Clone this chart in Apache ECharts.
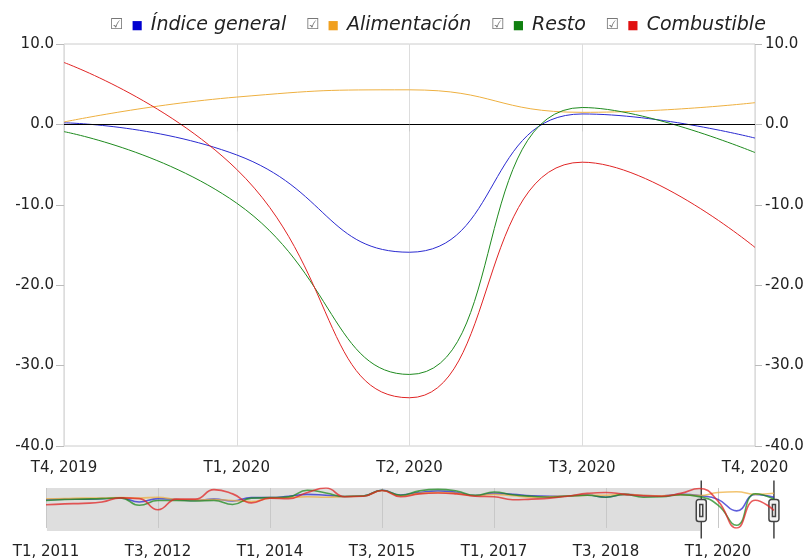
<!DOCTYPE html>
<html>
<head>
<meta charset="utf-8">
<script src="https://cdn.jsdelivr.net/npm/echarts@6/dist/echarts.min.js"></script>
<style>
  html, body { margin: 0; padding: 0; background: #fff; }
  #chart { width: 808px; height: 560px; }
</style>
</head>
<body>
<div id="chart"></div>
<script>
// trimestres T1 2011 .. T4 2020
var quarters = [];
for (var y = 2011; y <= 2020; y++) {
  for (var q = 1; q <= 4; q++) quarters.push('T' + q + ', ' + y);
}

var names = ['Índice general', 'Alimentación', 'Resto', 'Combustible'];
var colors = ['#2a2ad0', '#eeb040', '#1e8a1e', '#e02424'];
var legendColors = ['#0000d0', '#f0a020', '#108010', '#e01010'];

var general = [-4.2, -3.5, -3.5, -3.0, -2.2, -6.5, -3.0, -4.0, -5.0, -3.5,
  -5.5, -2.0, -2.0, -0.5, 1.5, 0.5, -0.8, -0.3, 5.8, 0.8,
  3.5, 5.0, 3.5, 0.2, 2.5, 1.5, 0.0, -0.5, -0.2, 0.8,
  -1.5, 1.5, 0.2, -0.2, 1.5, 0.2, -3.8, -15.9, 1.3, -1.7];
var alimentacion = [-3.2, -3.0, -2.5, -2.5, -2.0, -2.5, -1.5, -4.0, -4.5, -4.0,
  -5.0, -6.0, -2.5, -2.0, -1.0, -1.5, -0.8, -0.3, 5.5, 0.0,
  2.5, 3.5, 2.5, 0.0, 1.5, 0.0, -1.5, -1.0, -0.3, 0.5,
  0.5, 1.5, 0.5, 0.0, 1.0, 0.3, 3.4, 4.3, 1.5, 2.7];
var resto = [-5.0, -4.0, -3.5, -3.0, -2.2, -10.0, -5.0, -5.0, -5.5, -5.0,
  -9.2, -2.5, -2.0, -1.2, 5.8, 3.0, -0.8, -0.3, 5.8, 0.5,
  5.2, 6.8, 5.0, 0.5, 4.0, 1.0, -0.5, -1.5, -0.2, 0.5,
  -1.5, 1.5, -1.5, -1.0, 1.0, -0.9, -9.8, -31.1, 2.1, -3.5];
var combustible = [-9.5, -8.5, -8.0, -6.5, -2.2, -3.0, -14.8, -3.5, -3.5, 6.5,
  2.0, -7.5, -2.5, -3.0, 3.5, 8.2, -1.0, -0.5, 5.5, -1.0,
  2.0, 3.0, 2.0, -0.5, -1.0, -4.2, -3.5, -2.5, -0.2, 2.5,
  3.5, 1.5, 0.0, -0.5, 2.5, 7.7, -5.6, -34.0, -4.7, -15.3];
var allData = [general, alimentacion, resto, combustible];

var chart = echarts.init(document.getElementById('chart'));
var font = 'DejaVu Sans';

var rich = {
  cb: { fontSize: 15, color: '#777', fontStyle: 'normal', fontFamily: font, padding: [0, 8, 0, 0] },
  t: { fontSize: 19, fontStyle: 'italic', color: '#222', fontFamily: font, padding: [0, 0, 0, 8] }
};
legendColors.forEach(function (c, i) {
  rich['c' + i] = { fontSize: 12, color: c, fontFamily: font };
});

var series = [];
allData.forEach(function (d, i) {
  var s = {
    name: names[i], type: 'line', xAxisIndex: 0, yAxisIndex: 0,
    data: d, smooth: true, symbol: 'none',
    lineStyle: { color: colors[i], width: 1 }, itemStyle: { color: colors[i] }
  };
  if (i === 0) {
    s.markLine = {
      silent: true, symbol: ['none', 'none'], label: { show: false },
      lineStyle: { color: '#000', type: 'solid', width: 1 },
      data: [{ yAxis: 0 }]
    };
  }
  series.push(s);
});
allData.forEach(function (d, i) {
  series.push({
    name: names[i], type: 'line', xAxisIndex: 2, yAxisIndex: 2,
    data: d, smooth: true, symbol: 'none', z: 3,
    lineStyle: { color: colors[i], width: 1.6, opacity: 0.75 }
  });
});

var yFmt = function (v) { return v.toFixed(1); };

chart.setOption({
  animation: false,
  textStyle: { fontFamily: font },
  legend: {
    top: 11, left: 100, icon: 'none', itemWidth: 0, itemGap: 15,
    data: names,
    formatter: function (n) {
      var i = names.indexOf(n);
      return '{cb|☑}{c' + i + '|■}{t|' + n + '}';
    },
    textStyle: { rich: rich }
  },
  grid: [
    { left: 64, right: 53, top: 44, bottom: 114, show: true, borderColor: '#ccc', borderWidth: 1 },
    { left: 46, right: 34, top: 488, height: 43 }
  ],
  xAxis: [
    {
      type: 'category', gridIndex: 0, boundaryGap: false, data: quarters,
      axisLine: { show: false },
      axisTick: { show: true, length: 7, lineStyle: { color: '#ccc' } },
      axisLabel: { interval: 0, fontSize: 15, color: '#222', margin: 15 },
      splitLine: { show: true, lineStyle: { color: '#ddd' } }
    },
    {
      type: 'category', gridIndex: 0, boundaryGap: false, data: quarters, show: false
    },
    {
      type: 'category', gridIndex: 1, boundaryGap: false, data: quarters, z: 3,
      axisLine: { show: false },
      axisTick: { show: true, interval: 5, length: 6, lineStyle: { color: '#c8c8c8' } },
      axisLabel: { interval: 5, fontSize: 15, color: '#222', margin: 17 },
      splitLine: { show: true, interval: 5, lineStyle: { color: '#c8c8c8' } }
    }
  ],
  yAxis: [
    {
      type: 'value', gridIndex: 0, min: -40, max: 10, interval: 10, position: 'left',
      axisLine: { show: false },
      axisTick: { show: true, length: 8, lineStyle: { color: '#bbb' } },
      axisLabel: { fontSize: 15, color: '#222', margin: 10, formatter: yFmt },
      splitLine: { show: false }
    },
    {
      type: 'value', gridIndex: 0, min: -40, max: 10, interval: 10, position: 'right',
      axisLine: { show: false },
      axisTick: { show: true, length: 7, lineStyle: { color: '#bbb' } },
      axisLabel: { fontSize: 15, color: '#222', margin: 10, formatter: yFmt },
      splitLine: { show: false }
    },
    {
      type: 'value', gridIndex: 1, show: false,
      min: function (v) { return v.min; }, max: function (v) { return v.max; },
      splitLine: { show: false }
    }
  ],
  dataZoom: [{
    type: 'slider', xAxisIndex: [0, 1], startValue: 35, endValue: 39,
    left: 46, right: 34, top: 488, height: 43, z: 1,
    showDataShadow: false, showDetail: false, brushSelect: false,
    moveHandleSize: 0,
    backgroundColor: '#dedede', borderColor: 'transparent',
    fillerColor: '#ffffff',
    handleIcon: 'path://M5,0V17M5,39V58M2.5,17h5a2.5,2.5,0,0,1,2.5,2.5v17a2.5,2.5,0,0,1,-2.5,2.5h-5a2.5,2.5,0,0,1,-2.5,-2.5v-17a2.5,2.5,0,0,1,2.5,-2.5ZM3.5,22h3v12h-3Z',
    handleSize: '135%',
    handleStyle: { color: '#f2f2f2', borderColor: '#444', borderWidth: 1.5 },
    dataBackground: { lineStyle: { opacity: 0 }, areaStyle: { opacity: 0 } }
  }],
  series: series
});
</script>
</body>
</html>
